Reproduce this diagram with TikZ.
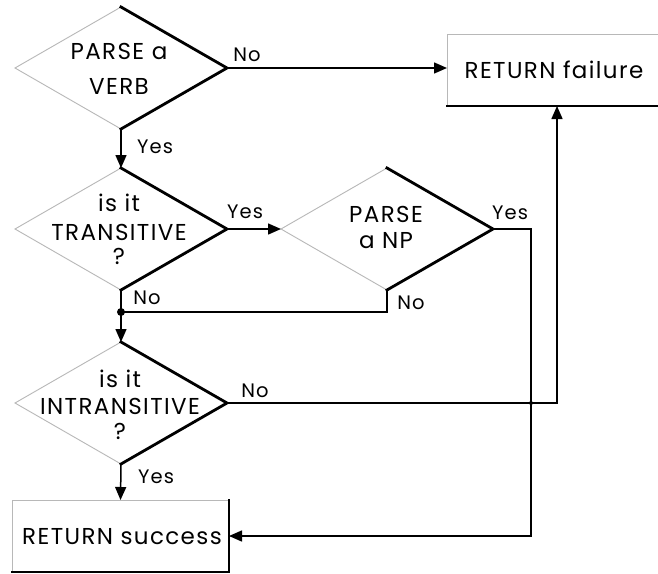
\documentclass[tikz,border=0pt]{standalone}
\usepackage{fontspec}
\setmainfont{Poppins}[LetterSpace=6]
\usetikzlibrary{shapes.geometric,arrows.meta}

\tikzset{
  x=1pt, y=-1pt,
  decision/.style={shape=diamond, minimum width=212pt, minimum height=122pt,
    inner sep=0pt, outer sep=0pt, draw=none},
  action/.style={shape=rectangle, inner sep=0pt, outer sep=0pt, draw=none},
  caption/.style={font=\fontsize{23}{25}\selectfont, align=center, inner sep=0pt},
  branch/.style={font=\fontsize{19.5}{20}\selectfont, inner sep=0pt},
  lit/.style={draw=black!28, line width=0.9pt},
  shade/.style={draw=black, line width=2.8pt, line join=miter, line cap=rect},
  flow/.style={draw=black, line width=1.5pt},
  arrow/.style={flow, -{Triangle[length=13pt,width=11pt]}},
}

\begin{document}
\begin{tikzpicture}
\clip (0,0) rectangle (658,573);
\fill[white] (0,0) rectangle (658,573);

% decisions
\node[decision] (d1) at (121,68) {};
\node[decision] (d2) at (121,229) {};
\node[decision] (d3) at (387,229) {};
\node[decision] (d4) at (121,403) {};

% actions
\node[action, minimum width=230pt, minimum height=72pt] (fail) at (562,70) {};
\node[action, minimum width=217pt, minimum height=72pt] (succ) at (120.5,536) {};

% lit and shaded outlines
\foreach \n in {d1,d2,d3,d4} {
  \draw[lit] (\n.south) -- (\n.west) -- (\n.north);
  \draw[shade] (\n.north) -- (\n.east) -- (\n.south);
}
\foreach \n in {fail,succ} {
  \draw[lit] (\n.south west) -- (\n.north west) -- (\n.north east);
  \draw[shade] (\n.north east) -- (\n.south east) -- (\n.south west);
}

% texts
\node[caption, font=\fontsize{23}{35}\selectfont] (t1) at (119,69) {PARSE a\\VERB};
\node[caption] (t2) at (119,229) {is it\\[4pt]TRANSITIVE\\[-1pt]?};
\node[caption, font=\fontsize{23}{26}\selectfont] (t3) at (386,227) {PARSE\\a NP};
\node[caption] (t4) at (120,405) {is it\\[2pt]INTRANSITIVE\\[0pt]?};
\node[caption] (tf) at (554,70) {RETURN failure};
\node[caption] (ts) at (122,537) {RETURN success};

% branch labels
\node[branch] (l1) at (247,55) {No};
\node[branch] (l2) at (155,147) {Yes};
\node[branch] (l3) at (245,212) {Yes};
\node[branch] (l4) at (510,213) {Yes};
\node[branch] (l5) at (147,298) {No};
\node[branch] (l6) at (411,303) {No};
\node[branch] (l7) at (255,391) {No};
\node[branch] (l8) at (156,477) {Yes};

% routing points
\coordinate (join) at (121,312);
\coordinate (c1) at (531,0);
\coordinate (c2) at (557,0);

% connectors
\draw[arrow] (d1.east) -- (d1.east -| fail.west);
\draw[arrow] (d1.south) -- (d2.north);
\draw[arrow] (d2.east) -- (d3.west);
\draw[arrow] (d3.east) -- (d3.east -| c1) -- (c1 |- succ.east) -- (succ.east);
\draw[flow] (d3.south) -- (d3.south |- join) -- (join);
\draw[flow] (d2.south) -- (join);
\draw[arrow] (join) -- (d4.north);
\fill (join) circle (4pt);
\draw[arrow] (d4.east) -- (d4.east -| c2) -- (c2 |- fail.south);
\fill (d4.east -| c1) circle (2pt);
\draw[arrow] (d4.south) -- (succ.north);
\end{tikzpicture}
\end{document}
